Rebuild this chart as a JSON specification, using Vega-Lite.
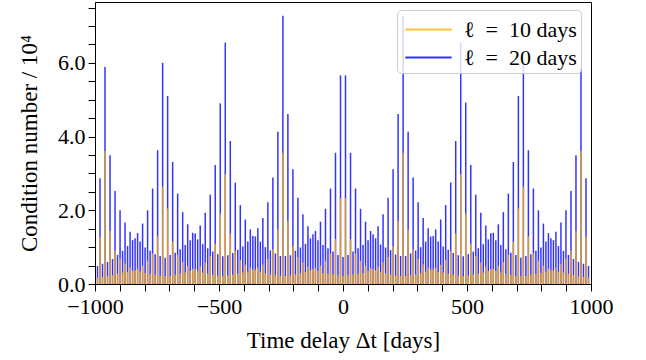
{
  "$schema": "https://vega.github.io/schema/vega-lite/v6.json",
  "width": 496,
  "height": 282,
  "autosize": {"type": "none"},
  "padding": {"left": 95, "top": 2, "right": 55, "bottom": 76},
  "background": "white",
  "config": {
    "view": {"stroke": "black", "strokeWidth": 1},
    "font": "Liberation Serif",
    "axis": {
      "domainColor": "black", "domainWidth": 1, "tickColor": "black", "tickWidth": 1,
      "labelColor": "black", "titleColor": "black",
      "labelFont": "Liberation Serif", "titleFont": "Liberation Serif",
      "labelFontSize": 22, "titleFontSize": 23, "titleFontWeight": "normal",
      "grid": false, "labelOverlap": false, "labelFlush": false
    },
    "legend": {
      "orient": "none", "legendX": 302, "legendY": 8,
      "symbolType": "M-1.6,0H1.6", "symbolSize": 841, "symbolStrokeWidth": 2, "symbolOpacity": 0.8,
      "symbolOffset": 12, "labelOffset": 20,
      "labelFont": "Liberation Serif", "labelFontSize": 22, "labelColor": "black",
      "fillColor": "rgba(255,255,255,0.8)", "strokeColor": "#cccccc", "cornerRadius": 4,
      "padding": 4, "rowPadding": 1
    }
  },
  "data": {"values": [
    {"delay": -989.9, "l20": 0.49, "l10": 0.17},
    {"delay": -979.8, "l20": 2.87, "l10": 1.28},
    {"delay": -969.7, "l20": 0.55, "l10": 0.19},
    {"delay": -959.6, "l20": 5.89, "l10": 3.61},
    {"delay": -949.5, "l20": 0.60, "l10": 0.21},
    {"delay": -939.4, "l20": 3.49, "l10": 1.44},
    {"delay": -929.3, "l20": 0.68, "l10": 0.24},
    {"delay": -919.2, "l20": 2.52, "l10": 0.91},
    {"delay": -909.1, "l20": 0.79, "l10": 0.28},
    {"delay": -899.0, "l20": 2.00, "l10": 0.69},
    {"delay": -888.9, "l20": 0.90, "l10": 0.31},
    {"delay": -878.8, "l20": 1.67, "l10": 0.55},
    {"delay": -868.7, "l20": 1.03, "l10": 0.33},
    {"delay": -858.6, "l20": 1.42, "l10": 0.44},
    {"delay": -848.5, "l20": 1.19, "l10": 0.36},
    {"delay": -838.4, "l20": 1.24, "l10": 0.37},
    {"delay": -828.3, "l20": 1.38, "l10": 0.42},
    {"delay": -818.2, "l20": 1.15, "l10": 0.34},
    {"delay": -808.1, "l20": 1.64, "l10": 0.50},
    {"delay": -798.0, "l20": 0.99, "l10": 0.30},
    {"delay": -787.9, "l20": 2.00, "l10": 0.63},
    {"delay": -777.8, "l20": 0.90, "l10": 0.27},
    {"delay": -767.7, "l20": 2.59, "l10": 0.83},
    {"delay": -757.6, "l20": 0.81, "l10": 0.25},
    {"delay": -747.5, "l20": 3.63, "l10": 1.29},
    {"delay": -737.4, "l20": 0.76, "l10": 0.22},
    {"delay": -727.3, "l20": 6.00, "l10": 2.64},
    {"delay": -717.2, "l20": 0.71, "l10": 0.21},
    {"delay": -707.1, "l20": 5.10, "l10": 2.05},
    {"delay": -697.0, "l20": 0.79, "l10": 0.22},
    {"delay": -686.9, "l20": 3.31, "l10": 1.15},
    {"delay": -676.8, "l20": 0.85, "l10": 0.25},
    {"delay": -666.7, "l20": 2.45, "l10": 0.79},
    {"delay": -656.6, "l20": 0.94, "l10": 0.28},
    {"delay": -646.5, "l20": 1.95, "l10": 0.60},
    {"delay": -636.4, "l20": 1.06, "l10": 0.31},
    {"delay": -626.3, "l20": 1.62, "l10": 0.49},
    {"delay": -616.2, "l20": 1.19, "l10": 0.35},
    {"delay": -606.1, "l20": 1.39, "l10": 0.41},
    {"delay": -596.0, "l20": 1.37, "l10": 0.41},
    {"delay": -585.9, "l20": 1.21, "l10": 0.35},
    {"delay": -575.8, "l20": 1.59, "l10": 0.48},
    {"delay": -565.7, "l20": 1.08, "l10": 0.31},
    {"delay": -555.6, "l20": 1.93, "l10": 0.58},
    {"delay": -545.5, "l20": 0.97, "l10": 0.28},
    {"delay": -535.4, "l20": 2.42, "l10": 0.76},
    {"delay": -525.3, "l20": 0.88, "l10": 0.25},
    {"delay": -515.2, "l20": 3.23, "l10": 1.09},
    {"delay": -505.1, "l20": 0.81, "l10": 0.23},
    {"delay": -494.9, "l20": 4.90, "l10": 1.91},
    {"delay": -484.8, "l20": 0.75, "l10": 0.21},
    {"delay": -474.7, "l20": 6.55, "l10": 2.98},
    {"delay": -464.6, "l20": 0.78, "l10": 0.23},
    {"delay": -454.5, "l20": 3.88, "l10": 1.37},
    {"delay": -444.4, "l20": 0.84, "l10": 0.25},
    {"delay": -434.3, "l20": 2.75, "l10": 0.90},
    {"delay": -424.2, "l20": 0.93, "l10": 0.28},
    {"delay": -414.1, "l20": 2.14, "l10": 0.65},
    {"delay": -404.0, "l20": 1.02, "l10": 0.31},
    {"delay": -393.9, "l20": 1.75, "l10": 0.52},
    {"delay": -383.8, "l20": 1.15, "l10": 0.33},
    {"delay": -373.7, "l20": 1.48, "l10": 0.44},
    {"delay": -363.6, "l20": 1.30, "l10": 0.39},
    {"delay": -353.5, "l20": 1.29, "l10": 0.39},
    {"delay": -343.4, "l20": 1.51, "l10": 0.44},
    {"delay": -333.3, "l20": 1.15, "l10": 0.33},
    {"delay": -323.2, "l20": 1.79, "l10": 0.53},
    {"delay": -313.1, "l20": 1.00, "l10": 0.29},
    {"delay": -303.0, "l20": 2.22, "l10": 0.68},
    {"delay": -292.9, "l20": 0.91, "l10": 0.26},
    {"delay": -282.8, "l20": 2.89, "l10": 0.94},
    {"delay": -272.7, "l20": 0.83, "l10": 0.24},
    {"delay": -262.6, "l20": 4.13, "l10": 1.48},
    {"delay": -252.5, "l20": 0.76, "l10": 0.22},
    {"delay": -242.4, "l20": 7.28, "l10": 3.56},
    {"delay": -232.3, "l20": 0.76, "l10": 0.22},
    {"delay": -222.2, "l20": 4.61, "l10": 1.71},
    {"delay": -212.1, "l20": 0.78, "l10": 0.23},
    {"delay": -202.0, "l20": 3.11, "l10": 1.03},
    {"delay": -191.9, "l20": 0.90, "l10": 0.26},
    {"delay": -181.8, "l20": 2.34, "l10": 0.73},
    {"delay": -171.7, "l20": 0.99, "l10": 0.29},
    {"delay": -161.6, "l20": 1.89, "l10": 0.58},
    {"delay": -151.5, "l20": 1.09, "l10": 0.32},
    {"delay": -141.4, "l20": 1.57, "l10": 0.47},
    {"delay": -131.3, "l20": 1.24, "l10": 0.37},
    {"delay": -121.2, "l20": 1.35, "l10": 0.41},
    {"delay": -111.1, "l20": 1.44, "l10": 0.43},
    {"delay": -101.0, "l20": 1.19, "l10": 0.35},
    {"delay": -90.9, "l20": 1.69, "l10": 0.50},
    {"delay": -80.8, "l20": 1.06, "l10": 0.30},
    {"delay": -70.7, "l20": 2.04, "l10": 0.63},
    {"delay": -60.6, "l20": 0.97, "l10": 0.28},
    {"delay": -50.5, "l20": 2.59, "l10": 0.83},
    {"delay": -40.4, "l20": 0.88, "l10": 0.26},
    {"delay": -30.3, "l20": 3.56, "l10": 1.22},
    {"delay": -20.2, "l20": 0.79, "l10": 0.24},
    {"delay": -10.1, "l20": 5.66, "l10": 2.33},
    {"delay": 0, "l20": 0.73, "l10": 0.22},
    {"delay": 10.1, "l20": 5.66, "l10": 2.33},
    {"delay": 20.2, "l20": 0.79, "l10": 0.24},
    {"delay": 30.3, "l20": 3.56, "l10": 1.22},
    {"delay": 40.4, "l20": 0.88, "l10": 0.26},
    {"delay": 50.5, "l20": 2.59, "l10": 0.83},
    {"delay": 60.6, "l20": 0.97, "l10": 0.28},
    {"delay": 70.7, "l20": 2.04, "l10": 0.63},
    {"delay": 80.8, "l20": 1.06, "l10": 0.30},
    {"delay": 90.9, "l20": 1.69, "l10": 0.50},
    {"delay": 101.0, "l20": 1.19, "l10": 0.35},
    {"delay": 111.1, "l20": 1.44, "l10": 0.43},
    {"delay": 121.2, "l20": 1.35, "l10": 0.41},
    {"delay": 131.3, "l20": 1.24, "l10": 0.37},
    {"delay": 141.4, "l20": 1.57, "l10": 0.47},
    {"delay": 151.5, "l20": 1.07, "l10": 0.32},
    {"delay": 161.6, "l20": 1.89, "l10": 0.58},
    {"delay": 171.7, "l20": 0.99, "l10": 0.29},
    {"delay": 181.8, "l20": 2.34, "l10": 0.73},
    {"delay": 191.9, "l20": 0.92, "l10": 0.26},
    {"delay": 202.0, "l20": 3.11, "l10": 1.03},
    {"delay": 212.1, "l20": 0.80, "l10": 0.23},
    {"delay": 222.2, "l20": 4.61, "l10": 1.71},
    {"delay": 232.3, "l20": 0.76, "l10": 0.22},
    {"delay": 242.4, "l20": 7.28, "l10": 3.56},
    {"delay": 252.5, "l20": 0.76, "l10": 0.22},
    {"delay": 262.6, "l20": 4.13, "l10": 1.48},
    {"delay": 272.7, "l20": 0.83, "l10": 0.24},
    {"delay": 282.8, "l20": 2.89, "l10": 0.94},
    {"delay": 292.9, "l20": 0.91, "l10": 0.26},
    {"delay": 303.0, "l20": 2.22, "l10": 0.68},
    {"delay": 313.1, "l20": 1.00, "l10": 0.29},
    {"delay": 323.2, "l20": 1.79, "l10": 0.53},
    {"delay": 333.3, "l20": 1.15, "l10": 0.33},
    {"delay": 343.4, "l20": 1.51, "l10": 0.44},
    {"delay": 353.5, "l20": 1.29, "l10": 0.39},
    {"delay": 363.6, "l20": 1.30, "l10": 0.39},
    {"delay": 373.7, "l20": 1.48, "l10": 0.44},
    {"delay": 383.8, "l20": 1.15, "l10": 0.33},
    {"delay": 393.9, "l20": 1.75, "l10": 0.52},
    {"delay": 404.0, "l20": 1.02, "l10": 0.31},
    {"delay": 414.1, "l20": 2.14, "l10": 0.65},
    {"delay": 424.2, "l20": 0.93, "l10": 0.28},
    {"delay": 434.3, "l20": 2.75, "l10": 0.90},
    {"delay": 444.4, "l20": 0.84, "l10": 0.25},
    {"delay": 454.5, "l20": 3.88, "l10": 1.37},
    {"delay": 464.6, "l20": 0.78, "l10": 0.23},
    {"delay": 474.7, "l20": 6.55, "l10": 2.98},
    {"delay": 484.8, "l20": 0.75, "l10": 0.21},
    {"delay": 494.9, "l20": 4.92, "l10": 1.91},
    {"delay": 505.1, "l20": 0.81, "l10": 0.23},
    {"delay": 515.2, "l20": 3.23, "l10": 1.09},
    {"delay": 525.3, "l20": 0.88, "l10": 0.25},
    {"delay": 535.4, "l20": 2.42, "l10": 0.76},
    {"delay": 545.5, "l20": 0.97, "l10": 0.28},
    {"delay": 555.6, "l20": 1.93, "l10": 0.58},
    {"delay": 565.7, "l20": 1.08, "l10": 0.31},
    {"delay": 575.8, "l20": 1.59, "l10": 0.48},
    {"delay": 585.9, "l20": 1.21, "l10": 0.35},
    {"delay": 596.0, "l20": 1.38, "l10": 0.41},
    {"delay": 606.1, "l20": 1.39, "l10": 0.41},
    {"delay": 616.2, "l20": 1.19, "l10": 0.35},
    {"delay": 626.3, "l20": 1.62, "l10": 0.49},
    {"delay": 636.4, "l20": 1.06, "l10": 0.31},
    {"delay": 646.5, "l20": 1.95, "l10": 0.60},
    {"delay": 656.6, "l20": 0.94, "l10": 0.28},
    {"delay": 666.7, "l20": 2.45, "l10": 0.79},
    {"delay": 676.8, "l20": 0.85, "l10": 0.25},
    {"delay": 686.9, "l20": 3.31, "l10": 1.15},
    {"delay": 697.0, "l20": 0.79, "l10": 0.22},
    {"delay": 707.1, "l20": 5.10, "l10": 2.05},
    {"delay": 717.2, "l20": 0.71, "l10": 0.21},
    {"delay": 727.3, "l20": 6.00, "l10": 2.64},
    {"delay": 737.4, "l20": 0.76, "l10": 0.22},
    {"delay": 747.5, "l20": 3.63, "l10": 1.29},
    {"delay": 757.6, "l20": 0.81, "l10": 0.25},
    {"delay": 767.7, "l20": 2.59, "l10": 0.83},
    {"delay": 777.8, "l20": 0.90, "l10": 0.27},
    {"delay": 787.9, "l20": 2.00, "l10": 0.63},
    {"delay": 798.0, "l20": 0.99, "l10": 0.30},
    {"delay": 808.1, "l20": 1.64, "l10": 0.50},
    {"delay": 818.2, "l20": 1.15, "l10": 0.34},
    {"delay": 828.3, "l20": 1.38, "l10": 0.42},
    {"delay": 838.4, "l20": 1.24, "l10": 0.37},
    {"delay": 848.5, "l20": 1.19, "l10": 0.36},
    {"delay": 858.6, "l20": 1.42, "l10": 0.44},
    {"delay": 868.7, "l20": 1.03, "l10": 0.33},
    {"delay": 878.8, "l20": 1.67, "l10": 0.55},
    {"delay": 888.9, "l20": 0.90, "l10": 0.31},
    {"delay": 899.0, "l20": 2.00, "l10": 0.69},
    {"delay": 909.1, "l20": 0.79, "l10": 0.28},
    {"delay": 919.2, "l20": 2.52, "l10": 0.91},
    {"delay": 929.3, "l20": 0.68, "l10": 0.24},
    {"delay": 939.4, "l20": 3.49, "l10": 1.44},
    {"delay": 949.5, "l20": 0.60, "l10": 0.21},
    {"delay": 959.6, "l20": 5.87, "l10": 3.61},
    {"delay": 969.7, "l20": 0.55, "l10": 0.19},
    {"delay": 979.8, "l20": 2.87, "l10": 1.28},
    {"delay": 989.9, "l20": 0.49, "l10": 0.17}
  ]},
  "transform": [{"fold": ["l20", "l10"], "as": ["series", "cond"]}],
  "mark": {"type": "rule", "strokeWidth": 1.5, "opacity": 0.8},
  "encoding": {
    "x": {
      "field": "delay", "type": "quantitative",
      "scale": {"domain": [-1000, 1000], "nice": false, "zero": false},
      "axis": {
        "title": "Time delay Δt [days]",
        "values": [-1000, -900, -800, -700, -600, -500, -400, -300, -200, -100, 0, 100, 200, 300, 400, 500, 600, 700, 800, 900, 1000],
        "labelExpr": "datum.value % 500 === 0 ? format(datum.value, 'd') : ''",
        "tickSize": 7, "labelPadding": 5, "titlePadding": 12,
        "encode": {"ticks": {"update": {"y2": {"signal": "datum.value % 500 === 0 ? 7 : 4"}}}}
      }
    },
    "y": {
      "field": "cond", "type": "quantitative",
      "scale": {"domain": [0, 7.65], "nice": false},
      "axis": {
        "title": "Condition number / 10⁴",
        "values": [0, 0.5, 1, 1.5, 2, 2.5, 3, 3.5, 4, 4.5, 5, 5.5, 6, 6.5, 7, 7.5],
        "labelExpr": "datum.value % 2 === 0 ? format(datum.value, '.1f') : ''",
        "tickSize": 7, "labelPadding": 3, "titlePadding": 16,
        "encode": {"ticks": {"update": {"x2": {"signal": "datum.value % 2 === 0 ? -7 : -4"}}}}
      }
    },
    "y2": {"datum": 0},
    "color": {
      "field": "series", "type": "nominal",
      "scale": {"domain": ["l10", "l20"], "range": ["#ffb000", "#0000ff"]},
      "legend": {"title": null, "labelExpr": "datum.label == 'l10' ? 'ℓ\u2002=\u200210 days' : 'ℓ\u2002=\u200220 days'"}
    }
  }
}
